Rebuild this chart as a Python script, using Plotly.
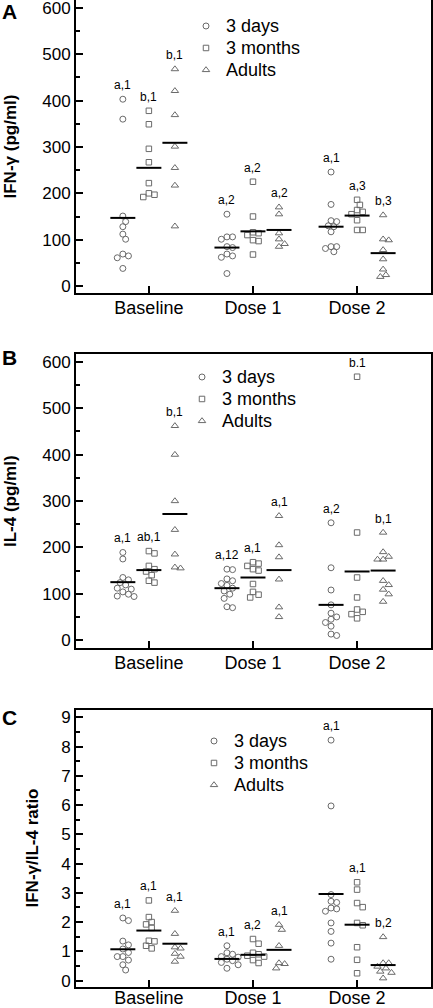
import plotly.graph_objects as go

# ---------------- data ----------------
categories = ["Baseline", "Dose 1", "Dose 2"]
groups = ["3 days", "3 months", "Adults"]

# Panel A: IFN-gamma (pg/ml), one list per category
ifn_3days = [[403, 360, 151, 139, 128, 112, 101, 69, 65, 61, 38],
             [155, 106, 106, 101, 85, 83, 69, 65, 62, 27],
             [246, 176, 141, 139, 130, 128, 117, 85, 85, 81, 74]]
ifn_3months = [[378, 349, 296, 267, 222, 200, 197, 192],
               [225, 150, 116, 114, 110, 99, 97, 68],
               [186, 175, 164, 160, 155, 142, 121, 121]]
ifn_adults = [[468, 421, 369, 301, 255, 217, 129],
              [170, 155, 114, 101, 91, 85],
              [153, 101, 99, 78, 58, 36, 24, 20]]
ifn_mean_3days = [147, 83, 128]
ifn_mean_3months = [255, 118, 152]
ifn_mean_adults = [309, 121, 71]
ifn_lab_3days = ["a,1", "a,2", "a,1"]
ifn_lab_3months = ["b,1", "a,2", "a,3"]
ifn_lab_adults = ["b,1", "a,2", "b,3"]

# Panel B: IL-4 (pg/ml)
il4_3days = [[189, 175, 135, 130, 124, 119, 112, 110, 104, 99, 95, 94],
             [153, 152, 132, 128, 122, 118, 112, 106, 99, 90, 72, 70],
             [253, 156, 108, 76, 58, 50, 45, 38, 30, 13, 10]]
il4_3months = [[192, 187, 160, 153, 148, 140, 128, 124],
               [168, 165, 160, 153, 150, 121, 104, 98, 92],
               [568, 232, 135, 92, 66, 61, 56, 47]]
il4_adults = [[462, 400, 300, 238, 185, 157, 155],
              [268, 205, 179, 131, 71, 50],
              [232, 190, 180, 174, 174, 128, 119, 109, 99, 83]]
il4_mean_3days = [125, 112, 76]
il4_mean_3months = [151, 135, 148]
il4_mean_adults = [272, 151, 150]
il4_lab_3days = ["a,1", "a,12", "a,2"]
il4_lab_3months = ["ab,1", "a,1", "b.1"]
il4_lab_adults = ["b,1", "a,1", "b,1"]

# Panel C: IFN-gamma / IL-4 ratio
ratio_3days = [[2.14, 2.05, 1.35, 1.22, 1.08, 0.96, 0.82, 0.82, 0.70, 0.54, 0.36],
               [1.19, 0.95, 0.90, 0.82, 0.80, 0.73, 0.68, 0.62, 0.54, 0.42],
               [8.22, 5.97, 2.94, 2.71, 2.67, 2.48, 2.45, 2.37, 1.97, 1.68, 1.28, 0.73]]
ratio_3months = [[2.74, 2.17, 2.00, 1.92, 1.80, 1.36, 1.34, 1.19, 1.10],
                 [1.42, 1.26, 0.95, 0.90, 0.85, 0.82, 0.70, 0.60],
                 [3.36, 3.11, 2.65, 2.51, 1.97, 1.89, 1.14, 0.71, 0.25]]
ratio_adults = [[2.39, 1.60, 1.14, 1.10, 0.92, 0.82, 0.65],
                [1.91, 1.74, 1.19, 0.60, 0.57, 0.42],
                [1.49, 0.60, 0.60, 0.48, 0.42, 0.31, 0.27, 0.08]]
ratio_mean_3days = [1.07, 0.74, 2.96]
ratio_mean_3months = [1.71, 0.88, 1.91]
ratio_mean_adults = [1.26, 1.05, 0.53]
ratio_lab_3days = ["a,1", "a,1", "a,1"]
ratio_lab_3months = ["a,1", "a,2", "a,1"]
ratio_lab_adults = ["a,1", "a,1", "b,2"]

# ---------------- layout constants ----------------
W, H = 433, 1008
FONT = "Liberation Sans, Arial, Helvetica, sans-serif"
X_RANGE = [0.30, 3.71]
X_LEFT, X_RIGHT = 76, 431
PX_PER_X = (X_RIGHT - X_LEFT) / (X_RANGE[1] - X_RANGE[0])
OFFSETS = [-0.25, 0.0, 0.25]
SYMBOLS = ["circle-open", "square-open", "triangle-up-open"]
SIZES = [6, 5.5, 6.5]
MARK_COLOR = "#6a6a6a"
LEG_FONT = 14.6   # controls legend row spacing
LEG_TEXT = 18     # actual legend text size

panels = [
    dict(key="", top=0, bottom=293, yr=[-15, 617], dtick=100, minor=50,
         title="<b>IFN-\u03b3 (pg/ml)</b>", title_x=10, letter="A", letter_y=12,
         data=[ifn_3days, ifn_3months, ifn_adults],
         means=[ifn_mean_3days, ifn_mean_3months, ifn_mean_adults],
         labels=[ifn_lab_3days, ifn_lab_3months, ifn_lab_adults],
         leg_x=186, leg_y=10, xstand=-3),
    dict(key="2", top=354, bottom=648, yr=[-17, 617], dtick=100, minor=50,
         title="<b>IL-4 (pg/ml)</b>", title_x=10, letter="B", letter_y=357,
         data=[il4_3days, il4_3months, il4_adults],
         means=[il4_mean_3days, il4_mean_3months, il4_mean_adults],
         labels=[il4_lab_3days, il4_lab_3months, il4_lab_adults],
         leg_x=182, leg_y=361, xstand=-3),
    dict(key="3", top=710, bottom=987, yr=[-0.22, 9.25], dtick=1, minor=0.5,
         title="<b>IFN-\u03b3/IL-4 ratio</b>", title_x=32, letter="C", letter_y=717,
         data=[ratio_3days, ratio_3months, ratio_adults],
         means=[ratio_mean_3days, ratio_mean_3months, ratio_mean_adults],
         labels=[ratio_lab_3days, ratio_lab_3months, ratio_lab_adults],
         leg_x=194, leg_y=725, xstand=-7),
]


def swarm(values, px_per_y, d=5.6):
    """Simple deterministic beeswarm: returns x offsets (data units)."""
    placed = []
    offs = []
    cands = [0, d * 0.5, -d * 0.5, d, -d, d * 1.5, -d * 1.5, 2 * d, -2 * d]
    for v in values:
        yp = v * px_per_y
        chosen = 0
        for c in cands:
            ok = True
            for (xq, yq) in placed:
                if ((c - xq) ** 2 + (yp - yq) ** 2) ** 0.5 < d:
                    ok = False
                    break
            if ok:
                chosen = c
                break
        placed.append((chosen, yp))
        offs.append(chosen / PX_PER_X)
    return offs


fig = go.Figure()
annotations = []
layout = dict(width=W, height=H, margin=dict(l=0, r=0, t=0, b=0),
              paper_bgcolor="white", plot_bgcolor="white",
              font=dict(family=FONT, size=17, color="black"))

for p in panels:
    k = p["key"]
    xa, ya = "x" + k, "y" + k
    px_per_y = (p["bottom"] - p["top"]) / (p["yr"][1] - p["yr"][0])
    legend_name = "legend" + k
    for g in range(3):
        xs, ys = [], []
        for c in range(3):
            vals = p["data"][g][c]
            offs = swarm(vals, px_per_y)
            for v, o in zip(vals, offs):
                xs.append(c + 1 + OFFSETS[g] + o)
                ys.append(v)
        fig.add_trace(go.Scatter(
            x=xs, y=ys, mode="markers",
            name="<span style='font-size:%dpx'>%s</span>" % (LEG_TEXT, groups[g]),
            xaxis=xa, yaxis=ya, legend=legend_name, showlegend=True,
            marker=dict(symbol=SYMBOLS[g], size=SIZES[g], color=MARK_COLOR,
                        line=dict(width=1, color=MARK_COLOR)),
            hoverinfo="skip"))
        # mean lines
        for c in range(3):
            xc = c + 1 + OFFSETS[g]
            m = p["means"][g][c]
            fig.add_trace(go.Scatter(
                x=[xc - 0.12, xc + 0.12], y=[m, m], mode="lines",
                line=dict(color="black", width=2), xaxis=xa, yaxis=ya,
                showlegend=False, hoverinfo="skip"))
            annotations.append(dict(
                x=xc, y=max(p["data"][g][c]), xref=xa, yref=ya,
                text=p["labels"][g][c], showarrow=False, yshift=14,
                font=dict(size=12, color="black", family=FONT),
                xanchor="center", yanchor="middle"))

    ydom = [1 - p["bottom"] / H, 1 - p["top"] / H]
    layout["xaxis" + k] = dict(
        domain=[X_LEFT / W, X_RIGHT / W], range=X_RANGE, anchor=ya,
        tickvals=[1, 2, 3], ticktext=categories, ticks="inside", ticklen=7,
        tickwidth=2, tickcolor="black", showline=True, linewidth=2,
        linecolor="black", mirror=True, showgrid=False, zeroline=False,
        tickfont=dict(size=18, family=FONT, color="black"), automargin=False,
        ticklabelstandoff=p["xstand"],
        ticklabeloverflow="allow", fixedrange=True)
    layout["yaxis" + k] = dict(
        domain=ydom, range=p["yr"], anchor=xa, dtick=p["dtick"], tick0=0,
        ticks="inside", ticklen=7, tickwidth=1.5, tickcolor="black",
        minor=dict(dtick=p["minor"], tick0=0, ticks="inside", ticklen=4,
                   tickwidth=1.5, tickcolor="black"),
        showline=True, linewidth=2, linecolor="black", mirror=True,
        showgrid=False, zeroline=False,
        tickfont=dict(size=17, family=FONT, color="black"), automargin=False,
        ticklabeloverflow="allow", fixedrange=True)
    layout[legend_name] = dict(
        x=p["leg_x"] / W, y=1 - p["leg_y"] / H, xanchor="left", yanchor="top",
        bgcolor="rgba(0,0,0,0)", borderwidth=0,
        font=dict(size=LEG_FONT, family=FONT, color="black"))
    annotations.append(dict(
        x=p["title_x"] / W, y=1 - (p["top"] + p["bottom"]) / 2 / H,
        xref="paper", yref="paper", text=p["title"], textangle=-90,
        showarrow=False, xanchor="center", yanchor="middle",
        font=dict(size=17, family=FONT, color="black")))
    annotations.append(dict(
        x=9 / W, y=1 - p["letter_y"] / H, xref="paper", yref="paper",
        text="<b>" + p["letter"] + "</b>", showarrow=False,
        xanchor="center", yanchor="middle",
        font=dict(size=21, family=FONT, color="black")))

layout["annotations"] = annotations
fig.update_layout(**layout)
fig.write_html("out.html", config=dict(displayModeBar=False),
               post_script="document.body.style.margin='0';document.body.style.padding='0';")
